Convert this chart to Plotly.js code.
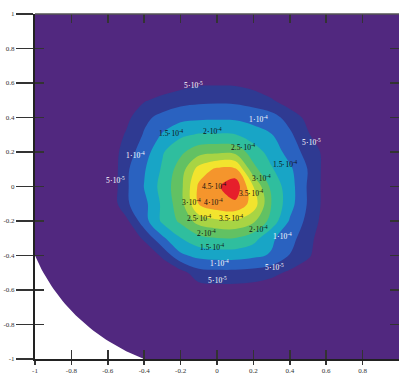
<!DOCTYPE html>
<html><head><meta charset="utf-8">
<script src="https://cdn.plot.ly/plotly-3.0.1.min.js"></script>
<style>html,body{margin:0;padding:0;background:#fff;overflow:hidden}</style>
</head><body><div id="chart" style="width:399px;height:375px"></div>
<script>
// grid coordinates
const xGrid = [-1,-0.9,-0.8,-0.7,-0.6,-0.5,-0.4,-0.3,-0.2,-0.1,0,0.1,0.2,0.3,0.4,0.5,0.6,0.7,0.8,0.9,1];
const yGrid = [-1,-0.9,-0.8,-0.7,-0.6,-0.5,-0.4,-0.3,-0.2,-0.1,0,0.1,0.2,0.3,0.4,0.5,0.6,0.7,0.8,0.9,1];
// field values in units of 1e-4, rows from y=-1 (first) to y=1 (last)
const zValues = [
[0,0,0,0,0,0,0,0,0,0,0,0,0,0,0,0,0,0,0,0,0],
[0,0,0,0,0,0,0,0,0,0,0,0,0,0,0,0,0,0,0,0,0],
[0,0,0,0,0,0,0,0,0,0,0,0,0,0,0,0,0,0,0,0,0],
[0,0,0,0,0,0,0,0,0,0,0,0,0,0,0,0,0,0,0,0,0],
[0,0,0,0,0,0,0,0,0,0.25,0.3,0.3,0.25,0.15,0,0,0,0,0,0,0],
[0,0,0,0,0,0,0,0,0.3,0.8,0.85,0.85,0.8,0.65,0.4,0.1,0,0,0,0,0],
[0,0,0,0,0,0,0,0.6,1.4,1.65,1.72,1.72,1.6,1.45,0.98,0.6,0,0,0,0,0],
[0,0,0,0,0,0,0.6,1.4,1.98,2.35,2.48,2.48,2.2,1.6,1.15,0.75,0,0,0,0,0],
[0,0,0,0,0,0.35,1.3,2.1,2.6,3.2,3.4,3.45,3.1,2.3,1.45,0.85,0.25,0,0,0,0],
[0,0,0,0,0,0.92,1.35,2.1,2.8,4.02,4.35,4.4,3.8,2.48,1.7,0.95,0.3,0,0,0,0],
[0,0,0,0,0,0.91,1.52,2.19,2.85,4.1,4.42,4.85,3.5,2.35,1.72,0.94,0.3,0,0,0,0],
[0,0,0,0,0,0.9,1.45,2.07,2.75,3.7,4.1,4.1,2.65,2.05,1.6,0.98,0.3,0,0,0,0],
[0,0,0,0,0.1,0.75,1.25,1.95,2.4,2.8,2.9,2.85,2.25,1.8,1.3,0.8,0.35,0,0,0,0],
[0,0,0,0,0.1,0.55,1.05,1.55,1.9,2.05,2.05,2.02,1.75,1.52,1.1,0.55,0.1,0,0,0,0],
[0,0,0,0,0,0.35,0.88,1.15,1.35,1.4,1.42,1.4,1.3,1.2,0.8,0.35,0,0,0,0,0],
[0,0,0,0,0,0,0.45,0.65,0.8,0.88,0.9,0.88,0.78,0.55,0.2,0,0,0,0,0,0],
[0,0,0,0,0,0,0,0.15,0.3,0.42,0.43,0.42,0.3,0.1,0,0,0,0,0,0,0],
[0,0,0,0,0,0,0,0,0,0,0,0,0,0,0,0,0,0,0,0,0],
[0,0,0,0,0,0,0,0,0,0,0,0,0,0,0,0,0,0,0,0,0],
[0,0,0,0,0,0,0,0,0,0,0,0,0,0,0,0,0,0,0,0,0],
[0,0,0,0,0,0,0,0,0,0,0,0,0,0,0,0,0,0,0,0,0]
];
const levelStart = 0.5, levelEnd = 4.5, levelStep = 0.5;
const bandColors = ['#51287f','#2f3a92','#2a62c0','#18a5c6','#2fbe9e','#62c163','#a8d444','#f2e42e','#f5952c','#e61f2b'];
const xTickVals = [-1,-0.8,-0.6,-0.4,-0.2,0,0.2,0.4,0.6,0.8];
const xTickText = ['-1','-0.8','-0.6','-0.4','-0.2','0','0.2','0.4','0.6','0.8'];
const yTickVals = [-1,-0.8,-0.6,-0.4,-0.2,0,0.2,0.4,0.6,0.8,1];
const yTickText = ['-1','-0.8','-0.6','-0.4','-0.2','0','0.2','0.4','0.6','0.8','1'];
// contour labels: level (1e-4 units)
const labelLevels = [0.5,1,0.5,1.5,2,2.5,1,1.5,0.5,3,4.5,3.5,3,4,2.5,3.5,2,2,1.5,1,1,0.5,0.5];
const labelPlace = [[-0.13,0.59],[0.23,0.39],[0.52,0.26],[-0.25,0.31],[-0.025,0.32],[0.145,0.23],[-0.45,0.185],[0.375,0.13],[-0.555,0.035],[0.245,0.05],[-0.015,0.005],[0.19,-0.04],[-0.14,-0.09],[-0.02,-0.09],[-0.095,-0.185],[0.08,-0.185],[-0.06,-0.27],[0.23,-0.245],[-0.025,-0.35],[0.36,-0.285],[0.015,-0.445],[0.315,-0.465],[0.0,-0.54]];
const domainRadius = 1.077;

const scale = bandColors.map((c,i)=>[i/(bandColors.length-1), c]);

function labelText(v){
  const val = v*1e-4;
  const e = Math.floor(Math.log10(val)+1e-9);
  const m = Math.round(val/Math.pow(10,e)*10)/10;
  return m + '\u22c510<sup>' + e + '</sup>';
}

// mask outside measurement domain (lower-left)
const c = Math.sqrt(domainRadius*domainRadius-1);
const a0 = Math.atan2(-c, -1);
const a1 = Math.atan2(-1, -c);
const mx = [-1.05, -1.05], my = [-1.05, -c];
for(let i=0;i<=40;i++){ const a = a0 + (a1-a0)*i/40; mx.push(domainRadius*Math.cos(a)); my.push(domainRadius*Math.sin(a)); }
mx.push(-c, -1.05);
my.push(-1.05, -1.05);

const serif = 'Liberation Serif, Times New Roman, serif';
const traces = [
  {type:'contour', x:xGrid, y:yGrid, z:zValues, autocontour:false,
   contours:{start:levelStart,end:levelEnd,size:levelStep,coloring:'fill',showlines:false},
   line:{width:0, smoothing:1}, colorscale:scale, showscale:false, hoverinfo:'skip'},
  {type:'scatter', x:mx, y:my, mode:'lines', fill:'toself', fillcolor:'#ffffff', line:{width:0,color:'#ffffff'}, hoverinfo:'skip', showlegend:false},
  {type:'scatter', x:[], y:[], xaxis:'x2', yaxis:'y2', showlegend:false}
];

const annotations = labelLevels.map((v,i)=>({
  x:labelPlace[i][0], y:labelPlace[i][1], xref:'x', yref:'y', text:labelText(v), showarrow:false,
  font:{family:serif, size:7.5, color: v<=1 ? '#ffffff' : '#111111'}
}));

const axBase = {range:[-1,1], showgrid:false, zeroline:false, fixedrange:true};
const layout = {
  width:399, height:375, margin:{l:35,r:0,t:14,b:16},
  paper_bgcolor:'#fff', plot_bgcolor:'#fff', showlegend:false, hovermode:false,
  xaxis:Object.assign({}, axBase, {showline:true, linecolor:'#222', linewidth:2, ticks:'outside', ticklen:4, tickwidth:1.5, tickcolor:'#333',
        tickvals:xTickVals, ticktext:xTickText, tickfont:{family:serif,size:7,color:'#333'}}),
  yaxis:Object.assign({}, axBase, {showline:true, linecolor:'#222', linewidth:2, ticks:'outside', ticklen:17, tickwidth:1.5, tickcolor:'#333',
        tickvals:yTickVals, ticktext:yTickText, tickfont:{family:serif,size:7,color:'#333'}}),
  xaxis2:Object.assign({}, axBase, {overlaying:'x', anchor:'y2', side:'bottom', showline:false, ticks:'inside', ticklen:9, tickwidth:1.5, tickcolor:'#333', mirror:'ticks', tickvals:xTickVals, showticklabels:false}),
  yaxis2:Object.assign({}, axBase, {overlaying:'y', anchor:'x2', side:'left', showline:false, ticks:'inside', ticklen:9, tickwidth:1.5, tickcolor:'#333', mirror:'ticks', tickvals:yTickVals, showticklabels:false}),
  shapes:[{type:'line', xref:'paper', yref:'paper', x0:0, x1:1, y0:1, y1:1, line:{color:'#555', width:1.5}}],
  annotations:annotations
};
Plotly.newPlot('chart', traces, layout, {staticPlot:true, displayModeBar:false});
</script></body></html>
